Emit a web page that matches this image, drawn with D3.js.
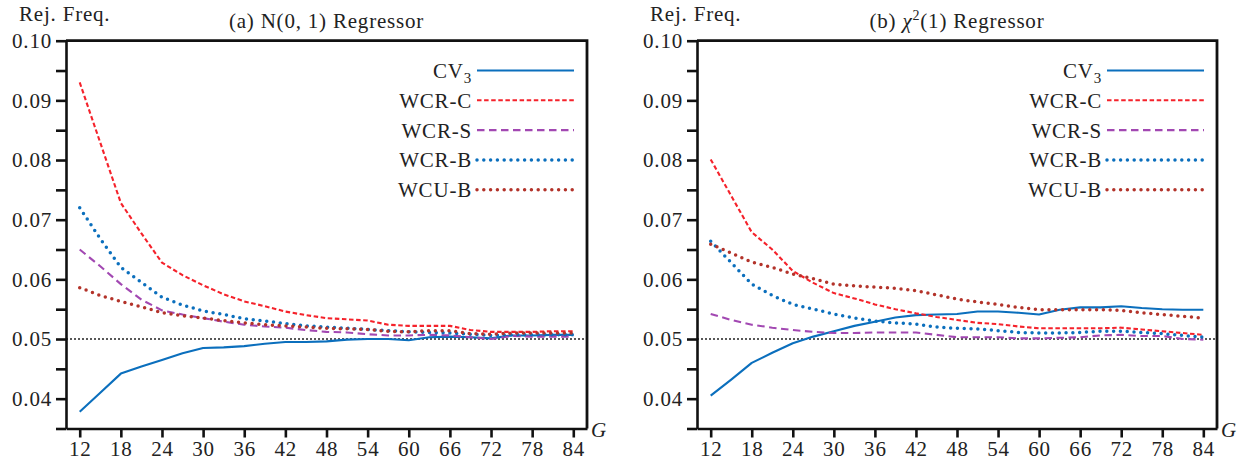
<!DOCTYPE html>
<html>
<head>
<meta charset="utf-8">
<script src="https://cdn.jsdelivr.net/npm/d3@7"></script>
<style>
  body { margin: 0; background: #fff; }
  svg text { font-family: "Liberation Serif", "DejaVu Serif", serif; fill: #222; letter-spacing: 0.8px; }
</style>
</head>
<body>
<svg id="chart" width="1248" height="465"></svg>
<script>
// number of clusters G
const groups = [12, 15, 18, 21, 24, 27, 30, 33, 36, 39, 42, 45, 48, 51, 54, 57, 60, 63, 66, 69, 72, 75, 78, 81, 84];
const xTicks = [12, 18, 24, 30, 36, 42, 48, 54, 60, 66, 72, 78, 84];
const yTicks = [0.035, 0.04, 0.045, 0.05, 0.055, 0.06, 0.065, 0.07, 0.075, 0.08, 0.085, 0.09, 0.095, 0.1];
const seriesNames = ["CV3", "WCR-C", "WCR-S", "WCR-B", "WCU-B"];
const nominal = 0.05;

// (a) N(0,1) regressor
const normCV3 = [0.0378, 0.0410, 0.0442, 0.0454, 0.0465, 0.0476, 0.0485, 0.0486, 0.0488, 0.0492, 0.0495, 0.0495, 0.0496, 0.0499, 0.0500, 0.0500, 0.0498, 0.0503, 0.0504, 0.0503, 0.0501, 0.0506, 0.0506, 0.0507, 0.0507];
const normWCRC = [0.0930, 0.0829, 0.0728, 0.0677, 0.0628, 0.0607, 0.0590, 0.0575, 0.0563, 0.0555, 0.0546, 0.0540, 0.0535, 0.0533, 0.0531, 0.0524, 0.0522, 0.0522, 0.0522, 0.0515, 0.0512, 0.0512, 0.0512, 0.0513, 0.0513];
const normWCRS = [0.0650, 0.0622, 0.0592, 0.0566, 0.0548, 0.0541, 0.0535, 0.0529, 0.0524, 0.0521, 0.0519, 0.0515, 0.0512, 0.0511, 0.0508, 0.0506, 0.0506, 0.0507, 0.0506, 0.0503, 0.0500, 0.0505, 0.0504, 0.0504, 0.0504];
const normWCRB = [0.0720, 0.0668, 0.0620, 0.0595, 0.0570, 0.0557, 0.0547, 0.0541, 0.0534, 0.0530, 0.0526, 0.0522, 0.0520, 0.0518, 0.0516, 0.0514, 0.0512, 0.0511, 0.0510, 0.0508, 0.0506, 0.0507, 0.0507, 0.0507, 0.0507];
const normWCUB = [0.0586, 0.0573, 0.0563, 0.0554, 0.0544, 0.0539, 0.0535, 0.0531, 0.0527, 0.0524, 0.0522, 0.0520, 0.0518, 0.0517, 0.0516, 0.0513, 0.0512, 0.0514, 0.0514, 0.0509, 0.0508, 0.0510, 0.0510, 0.0510, 0.0510];

// (b) chi2(1) regressor
const chiCV3 = [0.0405, 0.0432, 0.0460, 0.0477, 0.0493, 0.0504, 0.0513, 0.0522, 0.0529, 0.0536, 0.0540, 0.0541, 0.0542, 0.0546, 0.0546, 0.0544, 0.0541, 0.0549, 0.0553, 0.0553, 0.0555, 0.0552, 0.0550, 0.0549, 0.0549];
const chiWCRC = [0.0801, 0.0740, 0.0679, 0.0650, 0.0614, 0.0594, 0.0577, 0.0568, 0.0558, 0.0550, 0.0543, 0.0537, 0.0532, 0.0527, 0.0525, 0.0521, 0.0518, 0.0518, 0.0518, 0.0518, 0.0519, 0.0516, 0.0513, 0.0510, 0.0507];
const chiWCRS = [0.0542, 0.0532, 0.0524, 0.0519, 0.0515, 0.0512, 0.0510, 0.0510, 0.0511, 0.0511, 0.0511, 0.0507, 0.0503, 0.0503, 0.0503, 0.0501, 0.0501, 0.0502, 0.0503, 0.0506, 0.0507, 0.0505, 0.0505, 0.0500, 0.0499];
const chiWCRB = [0.0664, 0.0628, 0.0592, 0.0573, 0.0558, 0.0550, 0.0542, 0.0535, 0.0530, 0.0527, 0.0525, 0.0520, 0.0518, 0.0517, 0.0514, 0.0511, 0.0510, 0.0510, 0.0511, 0.0513, 0.0513, 0.0511, 0.0509, 0.0506, 0.0503];
const chiWCUB = [0.0659, 0.0644, 0.0629, 0.0620, 0.0609, 0.0601, 0.0592, 0.0589, 0.0587, 0.0585, 0.0581, 0.0574, 0.0567, 0.0562, 0.0558, 0.0553, 0.0549, 0.0549, 0.0549, 0.0549, 0.0548, 0.0544, 0.0541, 0.0538, 0.0535];

const STYLES = {
  "CV3": { color: "#0b6fbd", width: 2.1, dash: null, cap: "butt" },
  "WCR-C": { color: "#f5222b", width: 2.1, dash: "4.5,2.6", cap: "butt" },
  "WCR-S": { color: "#a248b2", width: 2.1, dash: "7.5,4.5", cap: "butt" },
  "WCR-B": { color: "#0b6fbd", width: 3.5, dash: "0,6.8", cap: "round" },
  "WCU-B": { color: "#b3332a", width: 3.5, dash: "0,6.8", cap: "round" },
};

const svg = d3.select("#chart");

function drawPanel(opts) {
  const x = d3.scaleLinear().domain([10, 86]).range([opts.left, opts.right]);
  const y = d3.scaleLinear().domain([0.035, 0.1]).range([428.5, 40.7]);
  const g = svg.append("g");

  // reference line at the nominal level
  g.append("line")
    .attr("x1", x(10)).attr("x2", x(86))
    .attr("y1", y(nominal)).attr("y2", y(nominal))
    .attr("stroke", "#222")
    .attr("stroke-width", 1.5)
    .attr("stroke-dasharray", "2,2");

  const line = d3.line()
    .x((d, i) => x(groups[i]))
    .y((d) => y(d));

  seriesNames.forEach((name) => {
    const s = STYLES[name];
    g.append("path")
      .datum(opts.data[name])
      .attr("d", line)
      .attr("fill", "none")
      .attr("stroke", s.color)
      .attr("stroke-width", s.width)
      .attr("stroke-linecap", s.cap)
      .attr("stroke-linejoin", "round")
      .attr("stroke-dasharray", s.dash);
  });

  // axes
  const yAxis = g.append("g")
    .attr("transform", `translate(${opts.left},0)`)
    .call(
      d3.axisLeft(y)
        .tickValues(yTicks)
        .tickSize(10)
        .tickSizeOuter(0)
        .tickPadding(4)
        .tickFormat((d) => (Math.round(d * 1000) % 10 === 0 ? d3.format(".2f")(d) : "")),
    );

  const xAxis = g.append("g")
    .attr("transform", `translate(0,${y(0.035)})`)
    .call(
      d3.axisBottom(x)
        .tickValues(xTicks)
        .tickSize(9)
        .tickSizeOuter(0)
        .tickPadding(4),
    );

  [yAxis, xAxis].forEach((ax) => {
    ax.attr("font-family", null).attr("font-size", 21);
    ax.selectAll("path, line").attr("stroke", "#111").attr("stroke-width", 2.6);
    ax.selectAll("text").attr("fill", "#222");
  });

  // top and right frame
  g.append("path")
    .attr("d", `M${opts.left},${y(0.1)}H${opts.right}V${y(0.035)}`)
    .attr("fill", "none")
    .attr("stroke", "#111")
    .attr("stroke-width", 2.8);

  g.append("text")
    .attr("x", opts.right + 4)
    .attr("y", 437)
    .attr("font-size", 21)
    .attr("font-style", "italic")
    .text("G");

  g.append("text")
    .attr("x", opts.left - 47)
    .attr("y", 20.5)
    .attr("font-size", 21)
    .text("Rej. Freq.");

  const title = g.append("text")
    .attr("x", (opts.left + opts.right) / 2)
    .attr("y", 28)
    .attr("font-size", 21)
    .attr("text-anchor", "middle");
  opts.title(title);

  // legend
  const legend = g.append("g");
  seriesNames.forEach((name, i) => {
    const s = STYLES[name];
    const ry = 70.5 + i * 29.8;
    legend.append("line")
      .attr("x1", opts.right - 110).attr("x2", opts.right - 13)
      .attr("y1", ry).attr("y2", ry)
      .attr("stroke", s.color)
      .attr("stroke-width", s.width)
      .attr("stroke-linecap", s.cap)
      .attr("stroke-dasharray", s.dash);
    const t = legend.append("text")
      .attr("x", opts.right - 115)
      .attr("y", ry + 7.5)
      .attr("font-size", 21)
      .attr("text-anchor", "end");
    if (name === "CV3") {
      t.append("tspan").text("CV");
      t.append("tspan").attr("font-size", 15).attr("dy", 4.5).text("3");
    } else {
      t.text(name);
    }
  });
}

drawPanel({
  left: 66,
  right: 587,
  data: { "CV3": normCV3, "WCR-C": normWCRC, "WCR-S": normWCRS, "WCR-B": normWCRB, "WCU-B": normWCUB },
  title: (t) => t.text("(a) N(0, 1) Regressor"),
});

drawPanel({
  left: 697,
  right: 1217,
  data: { "CV3": chiCV3, "WCR-C": chiWCRC, "WCR-S": chiWCRS, "WCR-B": chiWCRB, "WCU-B": chiWCUB },
  title: (t) => {
    t.append("tspan").text("(b) ");
    t.append("tspan").attr("font-style", "italic").text("χ");
    t.append("tspan").attr("font-size", 14).attr("dy", -8).text("2");
    t.append("tspan").attr("dy", 8).text("(1) Regressor");
  },
});
</script>
</body>
</html>
